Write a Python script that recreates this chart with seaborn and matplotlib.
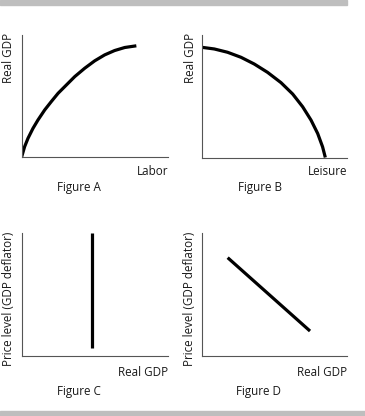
import numpy as np
import pandas as pd
import matplotlib
matplotlib.use("Agg")
import matplotlib.pyplot as plt
from matplotlib.patches import Rectangle
import seaborn as sns

# ---- data (axes scaled 0..100) ----
labor = [0, 2.0, 4.3, 7.7, 11.1, 15.7, 20.2, 24.8, 30.5, 36.2, 43.0, 49.8, 56.6, 63.4, 70.3, 78.2]
gdp_a = [0, 8.3, 15.2, 23.4, 30.3, 38.6, 45.5, 52.3, 59.2, 66.1, 73.0, 79.1, 84.0, 87.6, 90.1, 91.5]

leisure = [0, 8.3, 17.5, 26.8, 36.0, 45.2, 54.5, 62.6, 69.5, 75.3, 79.9, 83.3, 85.2]
gdp_b = [89.9, 88.6, 85.9, 81.8, 76.3, 69.5, 61.1, 51.8, 41.4, 30.5, 19.6, 8.7, 0]

gdp_c = [48, 48]
price_c = [6.5, 100]

gdp_d = [17.7, 74.5]
price_d = [79.9, 20.1]

xlabels = ["Labor", "Leisure", "Real GDP", "Real GDP"]
ylabels = ["Real GDP", "Real GDP", "Price level (GDP deflator)", "Price level (GDP deflator)"]
titles = ["Figure A", "Figure B", "Figure C", "Figure D"]

sns.set_style("white")
plt.rcParams['font.family'] = ['Open Sans', 'DejaVu Sans']

W, H = 365, 416
fig = plt.figure(figsize=(W / 100, H / 100), dpi=100)

def fx(px):
    return px / W

def fy(py):
    return 1 - py / H

# gray bands
fig.patches.append(Rectangle((0, fy(4.5)), fx(347), 4.5 / H, transform=fig.transFigure,
                             color="#bebebe", zorder=0))
fig.patches.append(Rectangle((0, 0), 1, 5.5 / H, transform=fig.transFigure,
                             color="#bebebe", zorder=0))

# axes boxes in pixels: left, right, top, bottom
boxes = [(21.7, 168.3, 35.5, 156.7),
         (202.3, 346.7, 35.0, 157.5),
         (21.7, 168.0, 233.0, 355.7),
         (202.0, 347.0, 233.0, 355.7)]
series = [(labor, gdp_a), (leisure, gdp_b), (gdp_c, price_c), (gdp_d, price_d)]
xlab_pos = [(168, 171.5), (347, 171.5), (168, 372), (347, 372)]
title_pos = [(78.5, 187), (260, 187), (78.5, 391), (259, 391)]
ylab_pos = [(9.0, 33), (190.0, 33), (8.5, 232), (189.5, 232)]

fs = 8.4
tc = "#1a1a1a"
for i, ((l, r, t, b), (xs, ys)) in enumerate(zip(boxes, series)):
    ax = fig.add_axes([fx(l), fy(b), fx(r) - fx(l), (b - t) / H])
    df = pd.DataFrame({"x": xs, "y": ys})
    sns.lineplot(data=df, x="x", y="y", ax=ax, color="black", linewidth=2.3,
                 sort=False, estimator=None)
    ax.set_xlim(0, 100)
    ax.set_ylim(0, 100)
    ax.set_xticks([])
    ax.set_yticks([])
    ax.set_xlabel("")
    ax.set_ylabel("")
    for s in ["top", "right"]:
        ax.spines[s].set_visible(False)
    for s in ["left", "bottom"]:
        ax.spines[s].set_color("#555555")
        ax.spines[s].set_linewidth(0.8)
    ax.patch.set_alpha(0)
    ax.lines[0].set_solid_capstyle("butt")
    ax.lines[0].set_solid_joinstyle("round")

    xp, yp = xlab_pos[i]
    fig.text(fx(xp), fy(yp), xlabels[i], ha="right", va="center", fontsize=fs, color=tc)
    tp, typ = title_pos[i]
    fig.text(fx(tp), fy(typ), titles[i], ha="center", va="center", fontsize=fs, color=tc)
    yx, yy = ylab_pos[i]
    fig.text(fx(yx), fy(yy), ylabels[i], ha="center", va="top", rotation=90,
             fontsize=fs, color=tc)

fig.savefig("out.png", dpi=100)
